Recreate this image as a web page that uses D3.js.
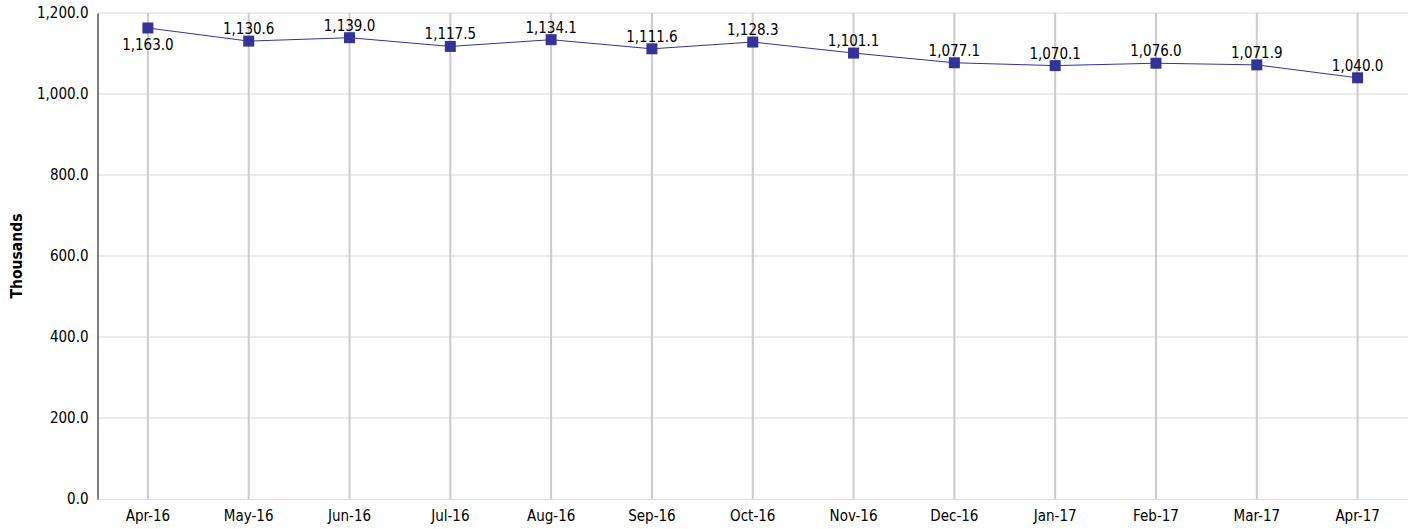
<!DOCTYPE html>
<html>
<head>
<meta charset="utf-8">
<script src="https://cdn.jsdelivr.net/npm/d3@7"></script>
<style>
  html, body { margin: 0; padding: 0; background: #fff; }
  svg { display: block; font-family: "DejaVu Sans Condensed", "DejaVu Sans", Verdana, sans-serif; font-stretch: condensed; }
</style>
</head>
<body>
<svg id="chart" width="1416" height="529"></svg>
<script>
// Monthly totals (thousands)
const months = ["Apr-16","May-16","Jun-16","Jul-16","Aug-16","Sep-16","Oct-16","Nov-16","Dec-16","Jan-17","Feb-17","Mar-17","Apr-17"];
const values = [1163.0, 1130.6, 1139.0, 1117.5, 1134.1, 1111.6, 1128.3, 1101.1, 1077.1, 1070.1, 1076.0, 1071.9, 1040.0];
const yTicks = [0, 200, 400, 600, 800, 1000, 1200];
const yTitle = "Thousands";

const FONT = "DejaVu Sans Condensed, DejaVu Sans, Verdana, sans-serif";
const svg = d3.select("#chart");
const margin = { left: 97.5, right: 8, top: 13, bottom: 30 };
const W = 1416, H = 529;

const x = d3.scaleBand().domain(months).range([margin.left, W - margin.right]);
const y = d3.scaleLinear().domain([0, 1200]).range([H - margin.bottom, margin.top]);
const fmt = d3.format(",.1f");
const cx = d => x(d) + x.bandwidth() / 2;

// horizontal gridlines
svg.append("g").selectAll("line").data(yTicks.filter(t => t > 0)).join("line")
  .attr("x1", margin.left).attr("x2", W - margin.right)
  .attr("y1", d => y(d)).attr("y2", d => y(d))
  .attr("stroke", "#d9d9d9").attr("stroke-width", 1);

// vertical gridlines at each month
svg.append("g").selectAll("line").data(months).join("line")
  .attr("x1", d => cx(d)).attr("x2", d => cx(d))
  .attr("y1", y(1200)).attr("y2", y(0))
  .attr("stroke", "#cccccc").attr("stroke-width", 2);

// x axis baseline
svg.append("line")
  .attr("x1", margin.left).attr("x2", W - margin.right)
  .attr("y1", y(0) + 0.5).attr("y2", y(0) + 0.5)
  .attr("stroke", "#bbbbbb").attr("stroke-dasharray", "1,1");

// y axis
const yAxis = svg.append("g")
  .attr("transform", `translate(${margin.left},0)`)
  .call(d3.axisLeft(y).tickValues(yTicks).tickFormat(fmt).tickSize(0).tickPadding(9));
yAxis.select(".domain").attr("stroke", "#000").attr("stroke-width", 1);
yAxis.selectAll("text").attr("font-size", "15px").attr("fill", "#000")
  .attr("font-family", FONT);

// x axis labels
const xAxis = svg.append("g")
  .attr("transform", `translate(0,${y(0)})`)
  .call(d3.axisBottom(x).tickSize(0).tickPadding(11));
xAxis.select(".domain").remove();
xAxis.selectAll("text").attr("font-size", "15px").attr("fill", "#000")
  .attr("font-family", FONT);

// axis title
svg.append("text")
  .attr("transform", `translate(22,${(y(0) + y(1200)) / 2}) rotate(-90)`)
  .attr("text-anchor", "middle")
  .attr("font-family", FONT)
  .attr("font-size", "15.5px").attr("font-weight", "bold")
  .text(yTitle);

// series line
svg.append("path")
  .datum(values)
  .attr("fill", "none").attr("stroke", "#333399").attr("stroke-width", 1)
  .attr("d", d3.line().x((d, i) => cx(months[i])).y(d => y(d)));

// markers
svg.append("g").selectAll("rect").data(values).join("rect")
  .attr("x", (d, i) => cx(months[i]) - 5.5)
  .attr("y", d => y(d) - 5.5)
  .attr("width", 11).attr("height", 11)
  .attr("fill", "#333399");

// value labels
svg.append("g").selectAll("text").data(values).join("text")
  .attr("x", (d, i) => cx(months[i]))
  .attr("y", (d, i) => i === 0 ? y(d) + 22 : y(d) - 7)
  .attr("text-anchor", "middle")
  .attr("font-family", FONT)
  .attr("font-size", "15px").attr("fill", "#000")
  .text(d => fmt(d));
</script>
</body>
</html>
